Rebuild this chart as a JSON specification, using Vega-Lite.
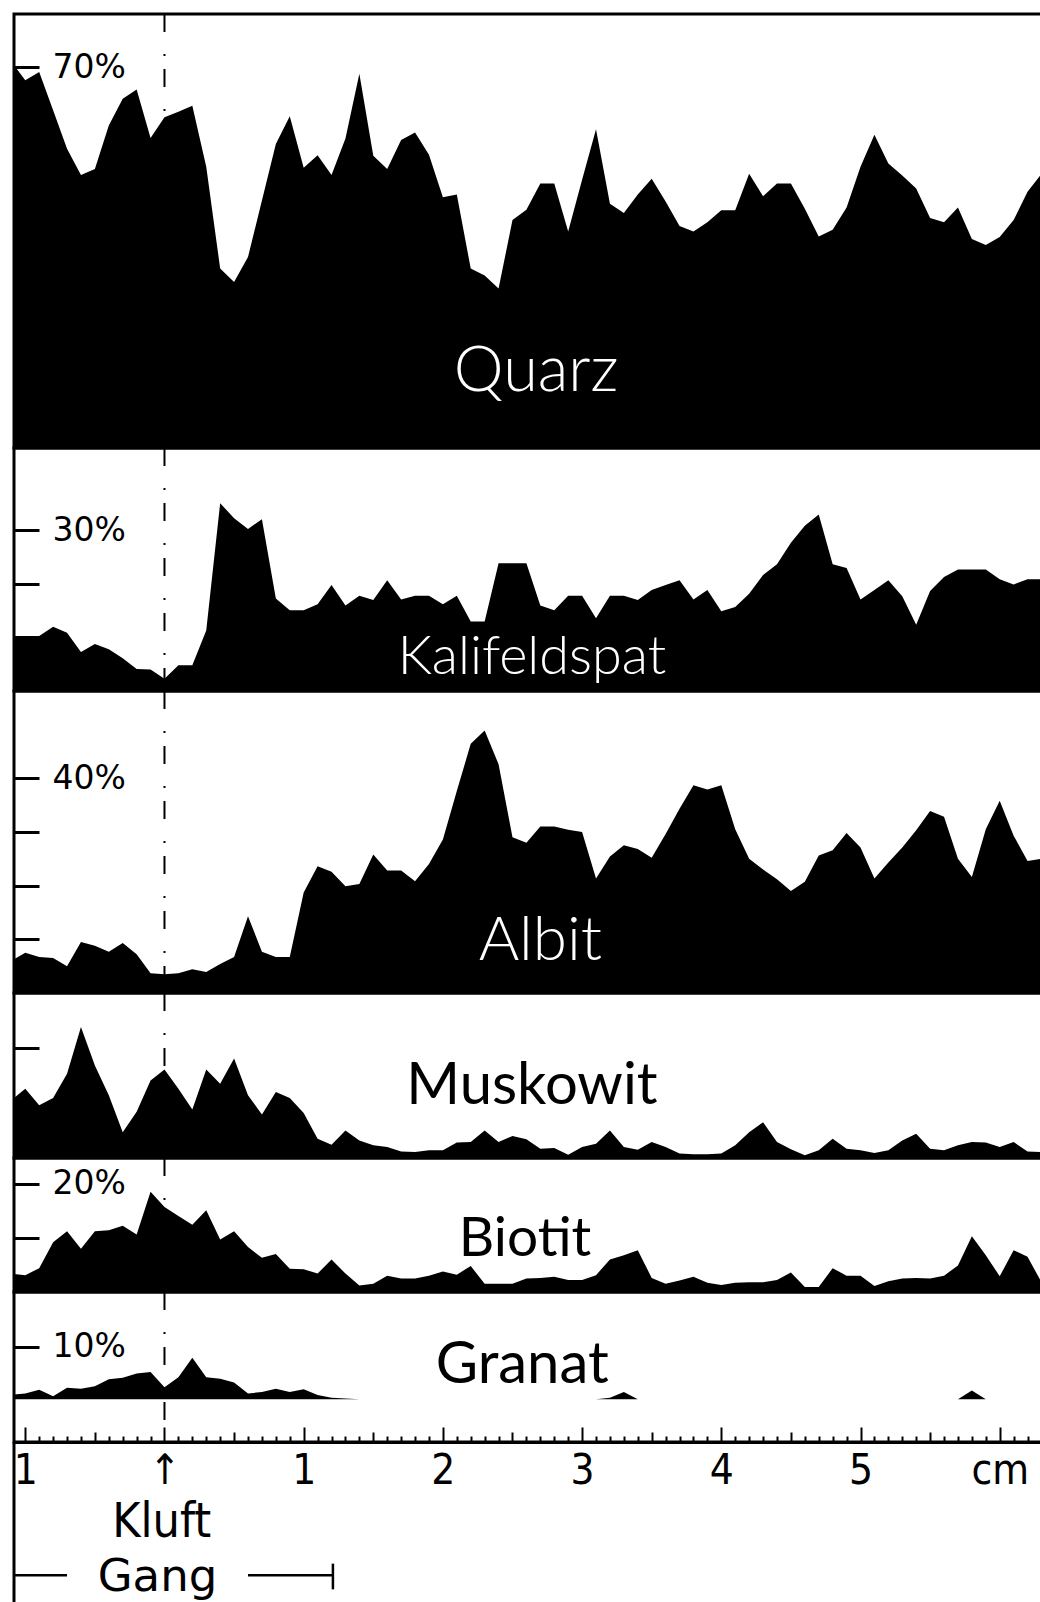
{
  "$schema": "https://vega.github.io/schema/vega-lite/v6.json",
  "background": "white",
  "padding": {"left": 11, "top": 11, "right": 0, "bottom": 0},
  "spacing": 0,
  "bounds": "flush",
  "resolve": {"scale": {"y": "independent"}},
  "config": {
    "view": {"stroke": "black", "strokeWidth": 3},
    "axis": {"grid": false, "domain": false, "title": null},
    "axisY": {"tickSize": -25, "tickWidth": 3, "labelAlign": "left", "labelBaseline": "middle", "labelPadding": -13, "labelFont": "DejaVu Sans", "labelFontSize": 33, "labelColor": "black", "labelOverlap": false, "labelFlush": false, "labelBound": false, "zindex": 1}
  },
  "datasets": {
    "profile": [
      {"cm": -1.1, "Quarz": 71.0, "Kalifeldspat": 10.0, "Albit": 6.0, "Muskowit": 10.5, "Biotit": 3.4, "Granat": 0.9},
      {"cm": -1.0, "Quarz": 67.6, "Kalifeldspat": 10.0, "Albit": 7.5, "Muskowit": 12.6, "Biotit": 3.1, "Granat": 1.1},
      {"cm": -0.9, "Quarz": 69.1, "Kalifeldspat": 10.3, "Albit": 6.7, "Muskowit": 9.6, "Biotit": 4.4, "Granat": 1.8},
      {"cm": -0.8, "Quarz": 62.1, "Kalifeldspat": 12.0, "Albit": 6.5, "Muskowit": 10.9, "Biotit": 9.2, "Granat": 0.6},
      {"cm": -0.7, "Quarz": 55.0, "Kalifeldspat": 10.9, "Albit": 5.0, "Muskowit": 15.3, "Biotit": 11.2, "Granat": 2.2},
      {"cm": -0.6, "Quarz": 50.2, "Kalifeldspat": 7.3, "Albit": 9.5, "Muskowit": 23.8, "Biotit": 8.0, "Granat": 2.0},
      {"cm": -0.5, "Quarz": 51.3, "Kalifeldspat": 8.8, "Albit": 8.8, "Muskowit": 16.8, "Biotit": 11.2, "Granat": 2.5},
      {"cm": -0.4, "Quarz": 59.3, "Kalifeldspat": 7.8, "Albit": 7.7, "Muskowit": 11.4, "Biotit": 11.4, "Granat": 3.8},
      {"cm": -0.3, "Quarz": 64.2, "Kalifeldspat": 6.1, "Albit": 9.3, "Muskowit": 4.7, "Biotit": 12.2, "Granat": 4.1},
      {"cm": -0.2, "Quarz": 65.9, "Kalifeldspat": 4.1, "Albit": 7.2, "Muskowit": 8.4, "Biotit": 10.6, "Granat": 4.9},
      {"cm": -0.1, "Quarz": 57.0, "Kalifeldspat": 4.0, "Albit": 3.7, "Muskowit": 14.1, "Biotit": 18.5, "Granat": 5.2},
      {"cm": 0.0, "Quarz": 60.8, "Kalifeldspat": 2.3, "Albit": 3.5, "Muskowit": 16.1, "Biotit": 15.7, "Granat": 2.3},
      {"cm": 0.1, "Quarz": 61.8, "Kalifeldspat": 4.8, "Albit": 3.7, "Muskowit": 12.6, "Biotit": 14.0, "Granat": 4.2},
      {"cm": 0.2, "Quarz": 62.9, "Kalifeldspat": 4.8, "Albit": 4.4, "Muskowit": 8.8, "Biotit": 12.4, "Granat": 7.9},
      {"cm": 0.3, "Quarz": 51.7, "Kalifeldspat": 11.3, "Albit": 3.9, "Muskowit": 16.1, "Biotit": 15.1, "Granat": 4.2},
      {"cm": 0.4, "Quarz": 33.0, "Kalifeldspat": 35.1, "Albit": 5.4, "Muskowit": 13.5, "Biotit": 9.7, "Granat": 3.9},
      {"cm": 0.5, "Quarz": 30.5, "Kalifeldspat": 32.3, "Albit": 6.7, "Muskowit": 18.1, "Biotit": 11.2, "Granat": 3.2},
      {"cm": 0.6, "Quarz": 35.1, "Kalifeldspat": 30.3, "Albit": 14.3, "Muskowit": 11.4, "Biotit": 8.3, "Granat": 1.1},
      {"cm": 0.7, "Quarz": 45.5, "Kalifeldspat": 32.1, "Albit": 7.7, "Muskowit": 7.9, "Biotit": 6.3, "Granat": 1.4},
      {"cm": 0.8, "Quarz": 55.9, "Kalifeldspat": 17.3, "Albit": 6.7, "Muskowit": 12.0, "Biotit": 7.0, "Granat": 2.0},
      {"cm": 0.9, "Quarz": 61.0, "Kalifeldspat": 15.1, "Albit": 6.7, "Muskowit": 10.9, "Biotit": 4.3, "Granat": 1.4},
      {"cm": 1.0, "Quarz": 51.5, "Kalifeldspat": 15.1, "Albit": 18.7, "Muskowit": 8.2, "Biotit": 4.2, "Granat": 1.9},
      {"cm": 1.1, "Quarz": 53.8, "Kalifeldspat": 16.2, "Albit": 23.6, "Muskowit": 3.5, "Biotit": 3.4, "Granat": 0.8},
      {"cm": 1.2, "Quarz": 50.2, "Kalifeldspat": 19.8, "Albit": 22.6, "Muskowit": 2.4, "Biotit": 6.0, "Granat": 0.3},
      {"cm": 1.3, "Quarz": 56.9, "Kalifeldspat": 16.0, "Albit": 19.9, "Muskowit": 5.0, "Biotit": 3.4, "Granat": 0.15},
      {"cm": 1.4, "Quarz": 68.8, "Kalifeldspat": 17.8, "Albit": 20.3, "Muskowit": 3.2, "Biotit": 1.2, "Granat": 0},
      {"cm": 1.5, "Quarz": 53.7, "Kalifeldspat": 17.0, "Albit": 25.8, "Muskowit": 2.3, "Biotit": 1.5, "Granat": 0},
      {"cm": 1.6, "Quarz": 51.3, "Kalifeldspat": 20.7, "Albit": 22.8, "Muskowit": 2.0, "Biotit": 3.0, "Granat": 0},
      {"cm": 1.7, "Quarz": 56.6, "Kalifeldspat": 17.1, "Albit": 22.8, "Muskowit": 1.2, "Biotit": 2.5, "Granat": 0},
      {"cm": 1.8, "Quarz": 58.0, "Kalifeldspat": 17.8, "Albit": 20.8, "Muskowit": 1.1, "Biotit": 2.5, "Granat": 0},
      {"cm": 1.9, "Quarz": 53.9, "Kalifeldspat": 17.8, "Albit": 24.0, "Muskowit": 1.4, "Biotit": 3.0, "Granat": 0},
      {"cm": 2.0, "Quarz": 46.1, "Kalifeldspat": 16.2, "Albit": 28.6, "Muskowit": 1.4, "Biotit": 3.8, "Granat": 0},
      {"cm": 2.1, "Quarz": 46.6, "Kalifeldspat": 17.8, "Albit": 37.6, "Muskowit": 2.8, "Biotit": 3.2, "Granat": 0},
      {"cm": 2.2, "Quarz": 33.0, "Kalifeldspat": 13.0, "Albit": 46.4, "Muskowit": 2.9, "Biotit": 4.8, "Granat": 0},
      {"cm": 2.3, "Quarz": 31.7, "Kalifeldspat": 13.0, "Albit": 48.9, "Muskowit": 5.0, "Biotit": 1.5, "Granat": 0},
      {"cm": 2.4, "Quarz": 29.3, "Kalifeldspat": 23.9, "Albit": 42.6, "Muskowit": 2.9, "Biotit": 1.5, "Granat": 0},
      {"cm": 2.5, "Quarz": 41.9, "Kalifeldspat": 23.9, "Albit": 29.0, "Muskowit": 4.0, "Biotit": 1.5, "Granat": 0},
      {"cm": 2.6, "Quarz": 43.8, "Kalifeldspat": 23.9, "Albit": 28.0, "Muskowit": 3.4, "Biotit": 2.5, "Granat": 0},
      {"cm": 2.7, "Quarz": 48.6, "Kalifeldspat": 16.0, "Albit": 31.0, "Muskowit": 1.7, "Biotit": 2.6, "Granat": 0},
      {"cm": 2.8, "Quarz": 48.6, "Kalifeldspat": 15.1, "Albit": 31.0, "Muskowit": 1.8, "Biotit": 2.8, "Granat": 0},
      {"cm": 2.9, "Quarz": 39.8, "Kalifeldspat": 17.8, "Albit": 30.4, "Muskowit": 0.6, "Biotit": 2.2, "Granat": 0},
      {"cm": 3.0, "Quarz": 49.3, "Kalifeldspat": 17.8, "Albit": 30.0, "Muskowit": 2.0, "Biotit": 2.2, "Granat": 0},
      {"cm": 3.1, "Quarz": 58.6, "Kalifeldspat": 13.6, "Albit": 21.3, "Muskowit": 2.6, "Biotit": 3.1, "Granat": 0},
      {"cm": 3.2, "Quarz": 44.9, "Kalifeldspat": 17.8, "Albit": 25.4, "Muskowit": 5.0, "Biotit": 6.0, "Granat": 0.3},
      {"cm": 3.3, "Quarz": 43.2, "Kalifeldspat": 17.8, "Albit": 27.5, "Muskowit": 2.0, "Biotit": 6.8, "Granat": 1.4},
      {"cm": 3.4, "Quarz": 46.6, "Kalifeldspat": 17.0, "Albit": 26.8, "Muskowit": 1.5, "Biotit": 7.7, "Granat": 0},
      {"cm": 3.5, "Quarz": 49.5, "Kalifeldspat": 18.9, "Albit": 25.2, "Muskowit": 2.9, "Biotit": 2.6, "Granat": 0},
      {"cm": 3.6, "Quarz": 45.3, "Kalifeldspat": 19.8, "Albit": 29.6, "Muskowit": 2.0, "Biotit": 1.5, "Granat": 0},
      {"cm": 3.7, "Quarz": 40.8, "Kalifeldspat": 20.7, "Albit": 34.3, "Muskowit": 0.8, "Biotit": 2.1, "Granat": 0},
      {"cm": 3.8, "Quarz": 39.8, "Kalifeldspat": 17.1, "Albit": 38.7, "Muskowit": 0.7, "Biotit": 2.8, "Granat": 0},
      {"cm": 3.9, "Quarz": 41.5, "Kalifeldspat": 18.9, "Albit": 37.9, "Muskowit": 0.7, "Biotit": 1.7, "Granat": 0},
      {"cm": 4.0, "Quarz": 43.7, "Kalifeldspat": 14.9, "Albit": 38.7, "Muskowit": 0.8, "Biotit": 1.3, "Granat": 0},
      {"cm": 4.1, "Quarz": 43.7, "Kalifeldspat": 15.7, "Albit": 30.5, "Muskowit": 2.3, "Biotit": 1.7, "Granat": 0},
      {"cm": 4.2, "Quarz": 50.4, "Kalifeldspat": 18.2, "Albit": 25.0, "Muskowit": 4.7, "Biotit": 1.8, "Granat": 0},
      {"cm": 4.3, "Quarz": 46.3, "Kalifeldspat": 21.7, "Albit": 23.0, "Muskowit": 6.5, "Biotit": 1.8, "Granat": 0},
      {"cm": 4.4, "Quarz": 48.6, "Kalifeldspat": 23.7, "Albit": 21.2, "Muskowit": 2.9, "Biotit": 2.2, "Granat": 0},
      {"cm": 4.5, "Quarz": 48.6, "Kalifeldspat": 27.7, "Albit": 19.0, "Muskowit": 1.6, "Biotit": 3.6, "Granat": 0},
      {"cm": 4.6, "Quarz": 44.0, "Kalifeldspat": 30.9, "Albit": 20.7, "Muskowit": 0.5, "Biotit": 0.9, "Granat": 0},
      {"cm": 4.7, "Quarz": 38.9, "Kalifeldspat": 33.0, "Albit": 25.6, "Muskowit": 1.4, "Biotit": 0.9, "Granat": 0},
      {"cm": 4.8, "Quarz": 40.1, "Kalifeldspat": 23.7, "Albit": 26.6, "Muskowit": 3.5, "Biotit": 4.4, "Granat": 0},
      {"cm": 4.9, "Quarz": 44.2, "Kalifeldspat": 23.0, "Albit": 29.8, "Muskowit": 1.7, "Biotit": 3.0, "Granat": 0},
      {"cm": 5.0, "Quarz": 51.7, "Kalifeldspat": 17.1, "Albit": 27.1, "Muskowit": 1.4, "Biotit": 3.0, "Granat": 0},
      {"cm": 5.1, "Quarz": 57.6, "Kalifeldspat": 18.9, "Albit": 21.3, "Muskowit": 0.9, "Biotit": 1.1, "Granat": 0},
      {"cm": 5.2, "Quarz": 52.3, "Kalifeldspat": 20.7, "Albit": 24.3, "Muskowit": 1.4, "Biotit": 2.0, "Granat": 0},
      {"cm": 5.3, "Quarz": 50.1, "Kalifeldspat": 17.7, "Albit": 27.1, "Muskowit": 3.2, "Biotit": 2.5, "Granat": 0},
      {"cm": 5.4, "Quarz": 47.7, "Kalifeldspat": 12.4, "Albit": 30.3, "Muskowit": 4.4, "Biotit": 2.6, "Granat": 0},
      {"cm": 5.5, "Quarz": 42.3, "Kalifeldspat": 18.7, "Albit": 33.9, "Muskowit": 1.7, "Biotit": 2.5, "Granat": 0},
      {"cm": 5.6, "Quarz": 41.5, "Kalifeldspat": 21.3, "Albit": 32.8, "Muskowit": 1.4, "Biotit": 3.0, "Granat": 0},
      {"cm": 5.7, "Quarz": 44.2, "Kalifeldspat": 22.7, "Albit": 25.0, "Muskowit": 2.3, "Biotit": 4.9, "Granat": 0},
      {"cm": 5.8, "Quarz": 38.4, "Kalifeldspat": 22.7, "Albit": 21.6, "Muskowit": 2.9, "Biotit": 10.3, "Granat": 1.7},
      {"cm": 5.9, "Quarz": 37.3, "Kalifeldspat": 22.7, "Albit": 30.5, "Muskowit": 2.8, "Biotit": 6.8, "Granat": 0},
      {"cm": 6.0, "Quarz": 38.8, "Kalifeldspat": 20.9, "Albit": 35.8, "Muskowit": 2.0, "Biotit": 2.9, "Granat": 0},
      {"cm": 6.1, "Quarz": 41.9, "Kalifeldspat": 19.9, "Albit": 29.3, "Muskowit": 2.9, "Biotit": 7.7, "Granat": 0},
      {"cm": 6.2, "Quarz": 47.1, "Kalifeldspat": 20.9, "Albit": 24.6, "Muskowit": 1.2, "Biotit": 6.5, "Granat": 0},
      {"cm": 6.3, "Quarz": 50.4, "Kalifeldspat": 20.9, "Albit": 25.0, "Muskowit": 1.1, "Biotit": 1.8, "Granat": 0},
      {"cm": 6.4, "Quarz": 52.0, "Kalifeldspat": 20.9, "Albit": 25.0, "Muskowit": 1.1, "Biotit": 1.5, "Granat": 0}
    ]
  },
  "vconcat": [
    {
      "width": 1029, "height": 434,
      "layer": [
        {"data": {"values": [{"cm": 0}]}, "mark": {"type": "rule", "color": "black", "strokeWidth": 2, "strokeDash": [18, 22, 2, 13]},
         "encoding": {"x": {"field": "cm", "type": "quantitative", "axis": null}}},
        {"data": {"name": "profile"}, "mark": {"type": "area", "color": "black", "clip": true},
         "encoding": {
           "x": {"field": "cm", "type": "quantitative", "scale": {"domain": [-1.081, 6.311], "nice": false, "zero": false}, "axis": null},
           "y": {"field": "Quarz", "type": "quantitative", "scale": {"domain": [0, 79.78], "nice": false, "zero": false},
                 "axis": {"values": [10, 20, 30, 40, 50, 60, 70], "tickColor": {"condition": {"test": "datum.value < 65", "value": "white"}, "value": "black"}, "labelExpr": "datum.value == 70 ? '70%' : ''"}},
           "y2": {"datum": 0}}},
        {"data": {"values": [{"mineral": "Quarz"}]}, "mark": {"type": "text", "color": "white", "font": "Lato", "fontWeight": 300, "fontSize": 63, "align": "center", "baseline": "alphabetic"},
         "encoding": {"x": {"datum": 2.67}, "y": {"datum": 10.5}, "text": {"field": "mineral"}}}
      ]
    },
    {
      "width": 1029, "height": 243,
      "layer": [
        {"data": {"values": [{"cm": 0}]}, "mark": {"type": "rule", "color": "black", "strokeWidth": 2, "strokeDash": [18, 22, 2, 13]},
         "encoding": {"x": {"field": "cm", "type": "quantitative", "axis": null}}},
        {"data": {"name": "profile"}, "mark": {"type": "area", "color": "black", "clip": true},
         "encoding": {
           "x": {"field": "cm", "type": "quantitative", "scale": {"domain": [-1.081, 6.311], "nice": false, "zero": false}, "axis": null},
           "y": {"field": "Kalifeldspat", "type": "quantitative", "scale": {"domain": [0, 45.42], "nice": false, "zero": false},
                 "axis": {"values": [10, 20, 30], "tickColor": "black", "labelExpr": "datum.value == 30 ? '30%' : ''"}},
           "y2": {"datum": 0}}},
        {"data": {"values": [{"mineral": "Kalifeldspat"}]}, "mark": {"type": "text", "color": "white", "font": "Lato", "fontWeight": 300, "fontSize": 54, "align": "center", "baseline": "alphabetic"},
         "encoding": {"x": {"datum": 2.64}, "y": {"datum": 3.2}, "text": {"field": "mineral"}}}
      ]
    },
    {
      "width": 1029, "height": 302,
      "layer": [
        {"data": {"values": [{"cm": 0}]}, "mark": {"type": "rule", "color": "black", "strokeWidth": 2, "strokeDash": [18, 22, 2, 13]},
         "encoding": {"x": {"field": "cm", "type": "quantitative", "axis": null}}},
        {"data": {"name": "profile"}, "mark": {"type": "area", "color": "black", "clip": true},
         "encoding": {
           "x": {"field": "cm", "type": "quantitative", "scale": {"domain": [-1.081, 6.311], "nice": false, "zero": false}, "axis": null},
           "y": {"field": "Albit", "type": "quantitative", "scale": {"domain": [0, 56.24], "nice": false, "zero": false},
                 "axis": {"values": [10, 20, 30, 40], "tickColor": "black", "labelExpr": "datum.value == 40 ? '40%' : ''"}},
           "y2": {"datum": 0}}},
        {"data": {"values": [{"mineral": "Albit"}]}, "mark": {"type": "text", "color": "white", "font": "Lato", "fontWeight": 300, "fontSize": 62, "align": "center", "baseline": "alphabetic"},
         "encoding": {"x": {"datum": 2.7}, "y": {"datum": 6.1}, "text": {"field": "mineral"}}}
      ]
    },
    {
      "width": 1029, "height": 165,
      "layer": [
        {"data": {"values": [{"cm": 0}]}, "mark": {"type": "rule", "color": "black", "strokeWidth": 2, "strokeDash": [18, 22, 2, 13]},
         "encoding": {"x": {"field": "cm", "type": "quantitative", "axis": null}}},
        {"data": {"name": "profile"}, "mark": {"type": "area", "color": "black", "clip": true},
         "encoding": {
           "x": {"field": "cm", "type": "quantitative", "scale": {"domain": [-1.081, 6.311], "nice": false, "zero": false}, "axis": null},
           "y": {"field": "Muskowit", "type": "quantitative", "scale": {"domain": [0, 30.0], "nice": false, "zero": false},
                 "axis": {"values": [10, 20], "tickColor": {"condition": {"test": "datum.value < 15", "value": "white"}, "value": "black"}, "labelExpr": "''"}},
           "y2": {"datum": 0}}},
        {"data": {"values": [{"mineral": "Muskowit"}]}, "mark": {"type": "text", "color": "black", "font": "Lato", "fontSize": 58, "align": "center", "baseline": "alphabetic"},
         "encoding": {"x": {"datum": 2.64}, "y": {"datum": 9.8}, "text": {"field": "mineral"}}}
      ]
    },
    {
      "width": 1029, "height": 134,
      "layer": [
        {"data": {"values": [{"cm": 0}]}, "mark": {"type": "rule", "color": "black", "strokeWidth": 2, "strokeDash": [18, 22, 2, 13]},
         "encoding": {"x": {"field": "cm", "type": "quantitative", "axis": null}}},
        {"data": {"name": "profile"}, "mark": {"type": "area", "color": "black", "clip": true},
         "encoding": {
           "x": {"field": "cm", "type": "quantitative", "scale": {"domain": [-1.081, 6.311], "nice": false, "zero": false}, "axis": null},
           "y": {"field": "Biotit", "type": "quantitative", "scale": {"domain": [0, 24.72], "nice": false, "zero": false},
                 "axis": {"values": [10, 20], "tickColor": "black", "labelExpr": "datum.value == 20 ? '20%' : ''"}},
           "y2": {"datum": 0}}},
        {"data": {"values": [{"mineral": "Biotit"}]}, "mark": {"type": "text", "color": "black", "font": "Lato", "fontSize": 55, "align": "center", "baseline": "alphabetic"},
         "encoding": {"x": {"datum": 2.59}, "y": {"datum": 6.6}, "text": {"field": "mineral"}}}
      ]
    },
    {
      "width": 1029, "height": 150,
      "layer": [
        {"data": {"values": [{"cm": 0}]}, "mark": {"type": "rule", "color": "black", "strokeWidth": 2, "strokeDash": [18, 22, 2, 13]},
         "encoding": {"x": {"field": "cm", "type": "quantitative"}}},
        {"data": {"name": "profile"}, "mark": {"type": "area", "color": "black", "clip": true},
         "encoding": {
           "x": {"field": "cm", "type": "quantitative", "scale": {"domain": [-1.081, 6.311], "nice": false, "zero": false},
                 "axis": {"orient": "bottom", "tickCount": 74, "domain": true, "domainColor": "black", "domainWidth": 3, "tickColor": "black", "tickWidth": 2,
                          "tickSize": {"condition": [{"test": "abs(datum.value - round(datum.value)) < 0.01", "value": -15}, {"test": "abs(datum.value * 2 - round(datum.value * 2)) < 0.01", "value": -10}], "value": -6},
                          "labelExpr": "datum.value == -1 ? '1' : (datum.value == 0 ? '↑' : (datum.value == 6 ? 'cm' : (abs(datum.value - round(datum.value)) < 0.01 ? format(datum.value, 'd') : '')))",
                          "labelFont": "DejaVu Sans Condensed", "labelFontSize": 42, "labelPadding": 23, "labelBaseline": "top", "labelAlign": "center", "labelColor": "black",
                          "labelOverlap": false, "labelFlush": false, "labelBound": false, "grid": false, "title": null, "zindex": 1}},
           "y": {"field": "Granat", "type": "quantitative", "scale": {"domain": [-8.13, 20.44], "nice": false, "zero": false},
                 "axis": {"values": [10], "tickColor": "black", "labelExpr": "'10%'"}},
           "y2": {"datum": 0}}},
        {"data": {"values": [{"mineral": "Granat"}]}, "mark": {"type": "text", "color": "black", "font": "Lato", "fontSize": 58, "align": "center", "baseline": "alphabetic"},
         "encoding": {"x": {"datum": 2.57}, "y": {"datum": 3.1}, "text": {"field": "mineral"}}},
        {"data": {"values": [{"label": "Kluft"}]}, "mark": {"type": "text", "color": "black", "font": "DejaVu Sans Condensed", "fontSize": 48, "align": "center", "baseline": "alphabetic"},
         "encoding": {"x": {"datum": -0.02}, "y": {"datum": -26.2}, "text": {"field": "label"}}},
        {"data": {"values": [{"label": "Gang"}]}, "mark": {"type": "text", "color": "black", "font": "DejaVu Sans", "fontSize": 45, "align": "center", "baseline": "alphabetic"},
         "encoding": {"x": {"datum": -0.05}, "y": {"datum": -36.6}, "text": {"field": "label"}}},
        {"data": {"values": [{"label": "Gang"}]}, "mark": {"type": "rule", "color": "black", "strokeWidth": 2.5},
         "encoding": {"x": {"datum": -1.081}, "x2": {"datum": -0.7}, "y": {"datum": -33.5}}},
        {"data": {"values": [{"label": "Gang"}]}, "mark": {"type": "rule", "color": "black", "strokeWidth": 2.5},
         "encoding": {"x": {"datum": 0.6}, "x2": {"datum": 1.21}, "y": {"datum": -33.5}}},
        {"data": {"values": [{"label": "Gang"}]}, "mark": {"type": "rule", "color": "black", "strokeWidth": 2.5},
         "encoding": {"x": {"datum": 1.21}, "y": {"datum": -31.3}, "y2": {"datum": -36.2}}},
        {"data": {"values": [{"label": "frame"}]}, "mark": {"type": "rule", "color": "black", "strokeWidth": 3},
         "encoding": {"x": {"datum": -1.081}, "y": {"datum": -8.13}, "y2": {"datum": -38.6}}}
      ]
    }
  ]
}
